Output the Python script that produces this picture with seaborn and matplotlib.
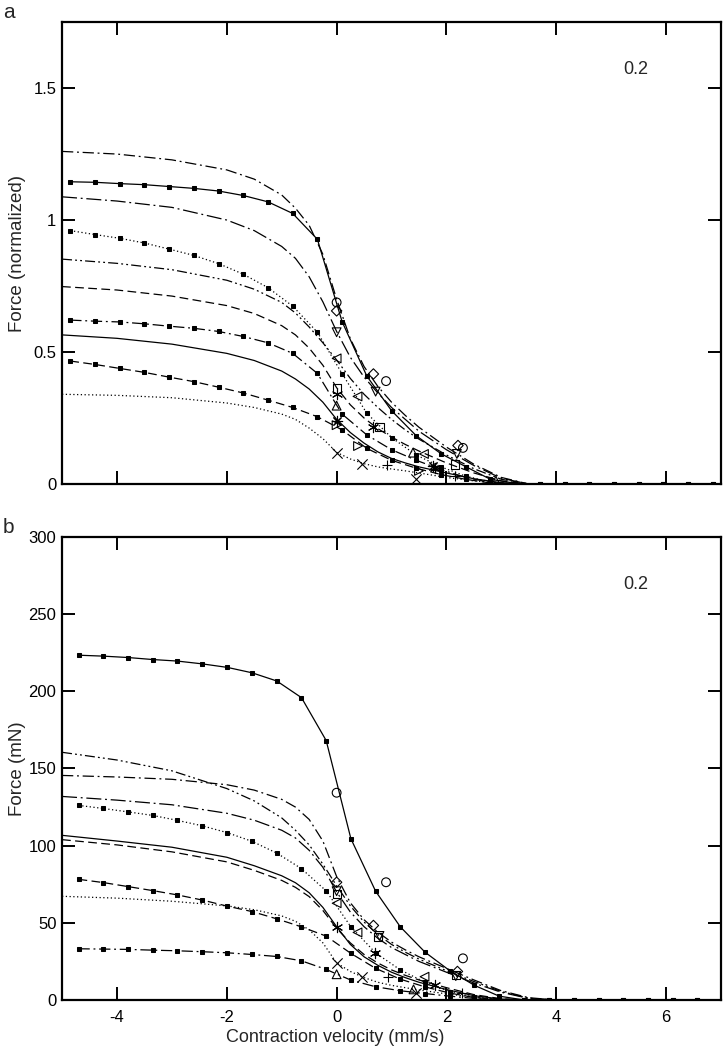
import numpy as np
import pandas as pd
import seaborn as sns
import matplotlib.pyplot as plt

# ---------- panel a : normalized force ----------
# velocity grid of the model points drawn with square markers
va_m = [-4.85, -4.40, -3.95, -3.50, -3.05, -2.60, -2.15, -1.70, -1.25, -0.80, -0.35, 0.10, 0.55,
        1.00, 1.45, 1.90, 2.35, 2.80, 3.25, 3.70, 4.15, 4.60, 5.05, 5.50, 5.95, 6.40, 6.85]
a_solid_m = [1.145, 1.143, 1.138, 1.134, 1.127, 1.12, 1.11, 1.093, 1.069, 1.025, 0.927, 0.615, 0.409,
             0.278, 0.183, 0.115, 0.066, 0.018, 0.003, 0, 0, 0, 0, 0, 0, 0, 0]
a_dot_m = [0.96, 0.945, 0.931, 0.913, 0.89, 0.866, 0.835, 0.795, 0.744, 0.674, 0.575, 0.418, 0.268,
           0.176, 0.11, 0.065, 0.03, 0.008, 0, 0, 0, 0, 0, 0, 0, 0, 0]
a_dashdot_m = [0.621, 0.617, 0.614, 0.607, 0.598, 0.59, 0.578, 0.559, 0.535, 0.495, 0.419, 0.265, 0.186,
               0.13, 0.09, 0.055, 0.025, 0.006, 0, 0, 0, 0, 0, 0, 0, 0, 0]
a_dash_m = [0.466, 0.453, 0.438, 0.423, 0.405, 0.388, 0.367, 0.345, 0.318, 0.29, 0.255, 0.205, 0.135,
            0.09, 0.06, 0.036, 0.018, 0.004, 0, 0, 0, 0, 0, 0, 0, 0, 0]

# velocity grid of the plain model curves
va_l = [-5, -4, -3, -2, -1.5, -1, -0.75, -0.5, -0.25, 0, 0.25, 0.5, 0.75, 1, 1.25, 1.5, 2, 2.5, 3, 3.5]
a_dashdot1 = [1.26, 1.25, 1.228, 1.19, 1.155, 1.095, 1.045, 0.98, 0.87, 0.70, 0.55, 0.445, 0.37, 0.31,
              0.26, 0.215, 0.14, 0.075, 0.025, 0]
a_dashdot2 = [1.088, 1.072, 1.048, 1.0, 0.96, 0.9, 0.855, 0.785, 0.69, 0.578, 0.48, 0.405, 0.345, 0.29,
              0.245, 0.2, 0.13, 0.07, 0.022, 0]
a_dashdotdot = [0.852, 0.836, 0.812, 0.772, 0.738, 0.688, 0.648, 0.595, 0.535, 0.47, 0.4, 0.34, 0.29,
                0.245, 0.205, 0.17, 0.11, 0.058, 0.018, 0]
a_dash = [0.748, 0.735, 0.712, 0.676, 0.646, 0.6, 0.565, 0.515, 0.45, 0.365, 0.3, 0.25, 0.21, 0.178,
          0.15, 0.125, 0.08, 0.042, 0.012, 0]
a_solid = [0.565, 0.552, 0.53, 0.495, 0.468, 0.428, 0.398, 0.36, 0.31, 0.245, 0.195, 0.155, 0.122,
           0.097, 0.08, 0.065, 0.042, 0.02, 0.005, 0]
a_dot = [0.34, 0.336, 0.327, 0.307, 0.29, 0.265, 0.245, 0.212, 0.172, 0.12, 0.095, 0.077, 0.065, 0.057,
         0.05, 0.042, 0.025, 0.012, 0.003, 0]

# measured points (condition, velocity, force)
pa_cond = ["circle"] * 3 + ["diamond"] * 3 + ["tri_down"] * 3 + ["tri_left"] * 3 + ["square"] * 3 + \
          ["asterisk"] * 3 + ["tri_up"] * 3 + ["star"] * 2 + ["tri_right"] * 3 + ["cross"] * 3 + ["plus"] * 2
pa_v = [0, 0.90, 2.30, 0, 0.67, 2.21, 0, 0.71, 2.19, 0, 0.38, 1.59, 0, 0.78, 2.15,
        0, 0.67, 1.79, 0, 1.39, 2.90, 0, 1.75, 0, 0.39, 1.50, 0, 0.47, 1.45, 0.92, 2.15]
pa_f = [0.688, 0.39, 0.137, 0.656, 0.417, 0.146, 0.575, 0.35, 0.114, 0.476, 0.332, 0.114, 0.362, 0.215, 0.074,
        0.341, 0.215, 0.062, 0.297, 0.119, 0.012, 0.239, 0.068, 0.223, 0.144, 0.05, 0.119, 0.075, 0.018,
        0.072, 0.03]

# ---------- panel b : force in mN ----------
vb_m = [-4.70, -4.25, -3.80, -3.35, -2.90, -2.45, -1.99, -1.54, -1.09, -0.64, -0.19, 0.26, 0.71,
        1.16, 1.61, 2.06, 2.51, 2.96, 3.42, 3.87, 4.32, 4.77, 5.22, 5.67, 6.12, 6.57]
b_solid_m = [223.4, 222.8, 221.9, 220.6, 219.6, 217.8, 215.5, 212.0, 206.7, 195.9, 168.1, 104.5, 70.5,
             47.4, 31.0, 19.0, 9.5, 2.5, 0, 0, 0, 0, 0, 0, 0, 0]
b_dot_m = [126.1, 124.1, 121.9, 119.6, 116.4, 112.9, 108.4, 102.8, 95.2, 85.1, 70.7, 47.4, 30.5,
           19.5, 11.5, 5.5, 1.8, 0.3, 0, 0, 0, 0, 0, 0, 0, 0]
b_dash_m = [78.2, 76.1, 73.5, 70.9, 68.1, 64.8, 60.8, 57.3, 52.6, 47.4, 41.4, 30.2, 20.5,
            13.5, 8.5, 4.5, 1.6, 0.3, 0, 0, 0, 0, 0, 0, 0, 0]
b_dashdot_m = [33.2, 33.0, 32.8, 32.3, 31.9, 31.3, 30.6, 29.5, 28.2, 25.4, 19.8, 12.9, 8.6,
               6.0, 4.2, 2.5, 1.0, 0.2, 0, 0, 0, 0, 0, 0, 0, 0]

vb_l = [-5, -4, -3, -2, -1.5, -1, -0.75, -0.5, -0.25, 0, 0.25, 0.5, 0.75, 1, 1.25, 1.5, 2, 2.5, 3, 3.5, 4]
b_dashdotdot = [160.5, 155.5, 148.5, 137, 129, 118, 110, 100.5, 88, 74, 61, 50.5, 42.5, 36, 31, 26.5,
                19, 12, 5.5, 1.2, 0]
b_dashdot1 = [145.5, 144.5, 143, 139.5, 136, 130, 125, 117, 103, 80, 63, 52, 44, 37.5, 32.5, 28,
              20.5, 13, 6, 1.5, 0]
b_dashdot2 = [131.9, 129.5, 126.5, 121, 116.5, 110, 105, 97, 86, 70, 57, 47.5, 40, 34, 29.5, 25,
              18, 11, 5, 1, 0]
b_solid = [106.7, 103, 99, 92.5, 87, 80.5, 76, 69.5, 60, 47.5, 36, 28, 22.5, 18, 14.5, 11.5,
           6.8, 2.8, 0.6, 0, 0]
b_dash = [103.9, 100.5, 96, 89.5, 84, 77.5, 73, 67, 58, 46.5, 37, 29.5, 24, 19.5, 16, 13,
          8, 3.5, 0.8, 0, 0]
b_dot = [67.2, 66, 64, 61, 58.5, 54.5, 51, 45.5, 37, 24, 18.5, 14.5, 11.5, 9.5, 8, 6.5,
         4, 1.8, 0.4, 0, 0]

pb_cond = ["circle"] * 3 + ["diamond"] * 3 + ["tri_down"] * 3 + ["square"] * 3 + ["tri_left"] * 3 + \
          ["asterisk"] * 3 + ["cross"] * 3 + ["tri_up"] * 2 + ["plus"] * 2
pb_v = [0, 0.90, 2.30, 0, 0.67, 2.20, 0, 0.78, 2.17, 0, 0.76, 2.18, 0, 0.38, 1.60,
        0, 0.69, 1.79, 0, 0.47, 1.45, 0, 1.40, 0.93, 2.28]
pb_f = [134.3, 76.3, 27.0, 76.3, 48.3, 18.5, 70.5, 41.5, 15.5, 68.5, 41.0, 16.5, 62.7, 43.8, 15.1,
        47.0, 30.2, 9.7, 23.7, 15.1, 4.7, 16.7, 6.9, 15.1, 4.7]

# ---------- styles ----------
sns.set_theme(style="ticks")
plt.rcParams["font.family"] = ["Liberation Sans", "DejaVu Sans"]
plt.rcParams["axes.unicode_minus"] = False

DASHDOT = (0, (9, 3, 1.5, 3))
DASHDOT_LONG = (0, (12, 3, 1.5, 3))
DASHDOTDOT = (0, (8, 2.5, 1.5, 2.5, 1.5, 2.5))
DASHED = (0, (7, 3.5))
DOTTED = (0, (1, 2))
marker_map = {"circle": "o", "diamond": "D", "tri_down": "v", "tri_left": "<", "square": "s",
              "asterisk": (6, 2, 0), "tri_up": "^", "star": (8, 2, 0), "tri_right": ">",
              "cross": "x", "plus": "+"}
marker_size = {"D": 28, "s": 34}
line_art = {"x", "+"}


def curve(ax, x, y, ls, mark=False):
    kw = {}
    if mark:
        kw = dict(marker="s", markersize=3.3, markeredgecolor="black", markerfacecolor="black")
    sns.lineplot(x=x, y=y, ax=ax, color="black", linewidth=0.9, linestyle=ls,
                 errorbar=None, **kw)


def points(ax, cond, v, f):
    df = pd.DataFrame({"cond": cond, "v": v, "f": f})
    for c, grp in df.groupby("cond", sort=False):
        m = marker_map[c]
        if isinstance(m, tuple) or m in line_art:
            sns.scatterplot(data=grp, x="v", y="f", ax=ax, marker=m, s=55, color="black",
                            linewidth=0.8, zorder=3)
        else:
            sns.scatterplot(data=grp, x="v", y="f", ax=ax, marker=m, s=marker_size.get(m, 40),
                            facecolor="none", edgecolor="black", linewidth=0.8, zorder=3)


def style_axes(ax, yticks, ylabels, ylim):
    ax.set_xlim(-5, 7)
    ax.set_ylim(*ylim)
    ax.set_xticks([-4, -2, 0, 2, 4, 6])
    ax.set_yticks(yticks)
    ax.set_yticklabels(ylabels)
    for s in ax.spines.values():
        s.set_visible(True)
        s.set_linewidth(1.6)
        s.set_color("black")
    ax.tick_params(direction="in", length=9.5, width=1.4, top=True, right=True,
                   labelsize=12, colors="black")
    ax.tick_params(axis="x", pad=7)
    ax.tick_params(axis="y", pad=4)
    ax.text(0.87, 0.898, "0.2", transform=ax.transAxes, fontsize=13, ha="center", va="center")


fig = plt.figure(figsize=(7.23, 10.5), dpi=100)
ax_a = fig.add_axes([0.0858, 0.539, 0.9115, 0.44])
ax_b = fig.add_axes([0.0858, 0.0476, 0.9115, 0.441])

# panel a
curve(ax_a, va_l, a_dashdot1, DASHDOT)
curve(ax_a, va_m, a_solid_m, "-", mark=True)
curve(ax_a, va_l, a_dashdot2, DASHDOT_LONG)
curve(ax_a, va_m, a_dot_m, DOTTED, mark=True)
curve(ax_a, va_l, a_dashdotdot, DASHDOTDOT)
curve(ax_a, va_l, a_dash, DASHED)
curve(ax_a, va_m, a_dashdot_m, DASHDOT, mark=True)
curve(ax_a, va_l, a_solid, "-")
curve(ax_a, va_m, a_dash_m, DASHED, mark=True)
curve(ax_a, va_l, a_dot, DOTTED)
points(ax_a, pa_cond, pa_v, pa_f)
style_axes(ax_a, [0, 0.5, 1, 1.5], ["0", "0.5", "1", "1.5"], (0, 1.75))
ax_a.set_xticklabels([])
ax_a.set_xlabel("")
ax_a.set_ylabel("Force (normalized)", fontsize=13.5)
ax_a.yaxis.set_label_coords(-0.054, 0.5)

# panel b
curve(ax_b, vb_m, b_solid_m, "-", mark=True)
curve(ax_b, vb_l, b_dashdotdot, DASHDOTDOT)
curve(ax_b, vb_l, b_dashdot1, DASHDOT)
curve(ax_b, vb_l, b_dashdot2, DASHDOT_LONG)
curve(ax_b, vb_m, b_dot_m, DOTTED, mark=True)
curve(ax_b, vb_l, b_solid, "-")
curve(ax_b, vb_l, b_dash, DASHED)
curve(ax_b, vb_m, b_dash_m, DASHED, mark=True)
curve(ax_b, vb_l, b_dot, DOTTED)
curve(ax_b, vb_m, b_dashdot_m, DASHDOT, mark=True)
points(ax_b, pb_cond, pb_v, pb_f)
b_ticks = [0, 50, 100, 150, 200, 250, 300]
style_axes(ax_b, b_ticks, [str(t) for t in b_ticks], (0, 300))
ax_b.set_xlabel("Contraction velocity (mm/s)", fontsize=13)
ax_b.xaxis.set_label_coords(0.415, -0.063)
ax_b.set_ylabel("Force (mN)", fontsize=13.5)
ax_b.yaxis.set_label_coords(-0.054, 0.5)

fig.text(0.004, 0.997, "a", fontsize=15, ha="left", va="top")
fig.text(0.004, 0.507, "b", fontsize=15, ha="left", va="top")

fig.savefig("out.png", dpi=100)
